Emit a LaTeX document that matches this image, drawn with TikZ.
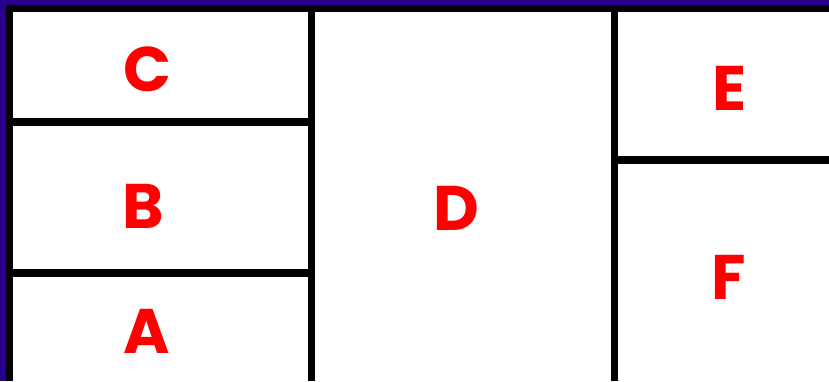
\documentclass[tikz,border=0pt]{standalone}
\usepackage{fontspec}
\setmainfont{Poppins}[BoldFont={* Bold}]
\definecolor{frameblue}{RGB}{40,0,140}
\definecolor{labelred}{RGB}{255,0,0}
\begin{document}
\begin{tikzpicture}[x=1pt,y=-1pt,
  divider/.style={line width=7.5pt, draw=black},
  panellabel/.style={text=labelred, font=\fontsize{63}{63}\selectfont\bfseries, inner sep=0pt, anchor=center}]
\useasboundingbox (0,0) rectangle (829,381);
\fill[frameblue] (0,0) rectangle (829,381);
\fill[black] (6,5) rectangle (829,381);
\fill[white] (13,12) rectangle (829,381);
% vertical dividers
\coordinate (v1t) at (311.5,12); \coordinate (v1b) at (311.5,381);
\coordinate (v2t) at (614.5,12); \coordinate (v2b) at (614.5,381);
\draw[divider] (v1t) -- (v1b);
\draw[divider] (v2t) -- (v2b);
% horizontal dividers
\coordinate (h1l) at (13,122); \coordinate (h1r) at (308,122);
\coordinate (h2l) at (13,273); \coordinate (h2r) at (308,273);
\coordinate (h3l) at (618,160); \coordinate (h3r) at (829,160);
\draw[divider] (h1l) -- (h1r);
\draw[divider] (h2l) -- (h2r);
\draw[divider] (h3l) -- (h3r);
% labels
\node[panellabel] (C) at (148,69) {C};
\node[panellabel] (B) at (143,206) {B};
\node[panellabel] (A) at (147,331) {A};
\node[panellabel] (D) at (456,208) {D};
\node[panellabel] (E) at (730,88) {E};
\node[panellabel] (F) at (729,277) {F};
\end{tikzpicture}
\end{document}
